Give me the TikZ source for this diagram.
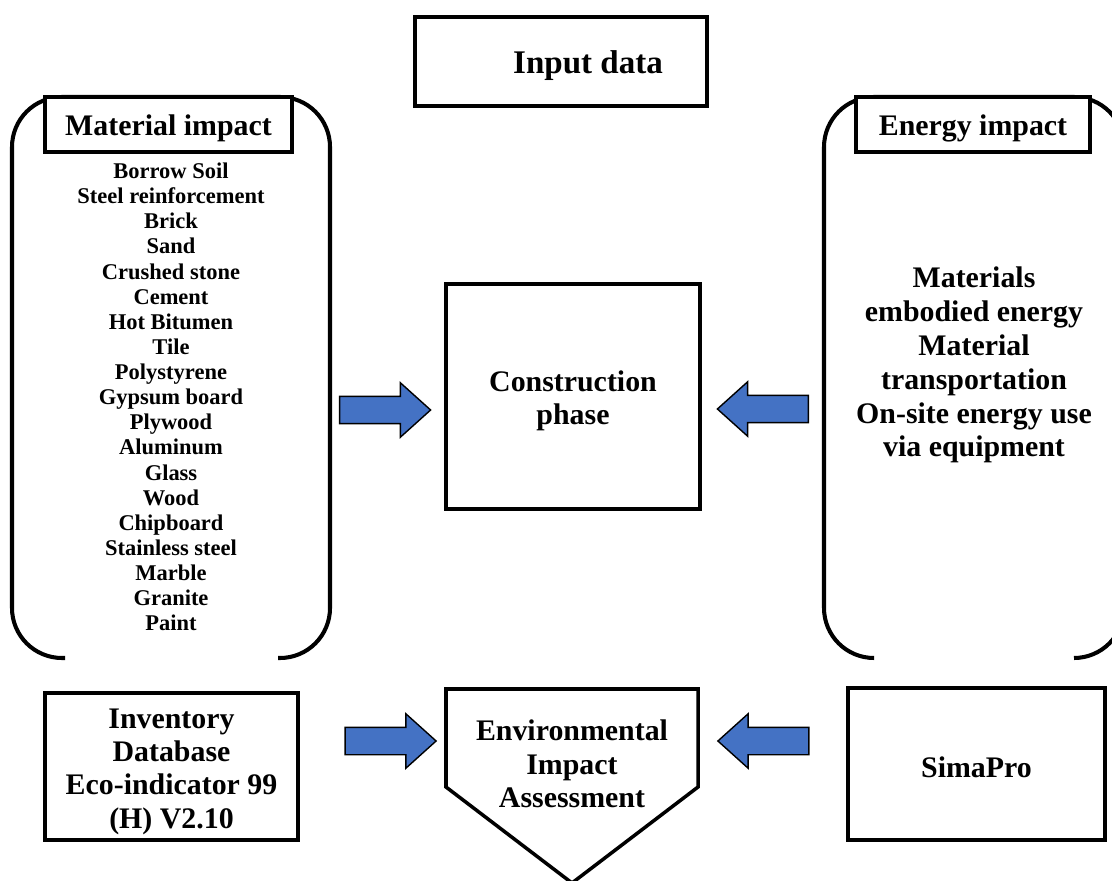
\documentclass[tikz,border=0pt]{standalone}
\usepackage{fontspec}
\setmainfont{Liberation Serif}
\usetikzlibrary{shapes.arrows}

\definecolor{arrowblue}{HTML}{4472C4}

\tikzset{
	box/.style={draw, line width=2pt, fill=white, inner sep=0pt},
	boxtext/.style={align=center, inner sep=0pt, font=\bfseries\fontsize{17}{19.3}\selectfont},
	bracket/.style={line width=2.3pt, rounded corners=1cm},
	blockarrow/.style={single arrow, draw, line width=0.8pt, fill=arrowblue,
		inner xsep=0pt, inner ysep=0.26cm, single arrow head extend=0.27cm,
		single arrow tip angle=84, minimum height=1.82cm},
}

\begin{document}
\begin{tikzpicture}[x=0.02cm,y=-0.02cm]

	%Canvas, one unit is one pixel of the reference
	\useasboundingbox (0,0) rectangle (1112,881);
	\clip (0,0) rectangle (1112,881);

	%Left and right brackets (top edges are hidden under the title boxes)
	\draw[bracket] (65,658) -- (12,658) -- (12,97) -- (330,97) -- (330,658) -- (278,658);
	\draw[bracket] (874,658) -- (824,658) -- (824,97) -- (1124,97) -- (1124,658) -- (1074,658);

	%Title boxes
	\node[box, minimum width=5.84cm, minimum height=1.78cm] (input) at (561,61.5) {};
	\node[boxtext, font=\bfseries\fontsize{18.8}{22}\selectfont] (inputtext) at (588,65.5) {Input data};
	\node[box, minimum width=4.94cm, minimum height=1.1cm] (material) at (168.5,124.5) {};
	\node[boxtext] (materialtext) at (168.5,128.5) {Material impact};
	\node[box, minimum width=4.68cm, minimum height=1.1cm] (energy) at (973,124.5) {};
	\node[boxtext] (energytext) at (973,128.5) {Energy impact};

	%Material list
	\node[boxtext, font=\bfseries\fontsize{12.8}{14.3}\selectfont] (materials) at (171,397)
		{Borrow Soil\\Steel reinforcement\\Brick\\Sand\\Crushed stone\\Cement\\Hot Bitumen\\Tile\\
		 Polystyrene\\Gypsum board\\Plywood\\Aluminum\\Glass\\Wood\\Chipboard\\Stainless steel\\
		 Marble\\Granite\\Paint};

	%Energy list
	\node[boxtext] (energies) at (974,365)
		{Materials\\embodied energy\\Material\\transportation\\On-site energy use\\via equipment};

	%Construction phase
	\node[box, minimum width=5.08cm, minimum height=4.5cm] (construction) at (573,396.5) {};
	\node[boxtext, font=\bfseries\fontsize{17}{18.8}\selectfont] (constructiontext) at (573,400.5)
		{Construction\\phase};

	%Bottom row
	\node[box, minimum width=5.06cm, minimum height=2.94cm] (inventory) at (171.5,766.5) {};
	\node[boxtext, font=\bfseries\fontsize{17}{19}\selectfont] (inventorytext) at (171.5,771.5)
		{Inventory\\Database\\Eco-indicator 99\\(H) V2.10};
	\node[box, minimum width=5.14cm, minimum height=3.04cm] (simapro) at (976.5,764) {};
	\node[boxtext] (simaprotext) at (976.5,767) {SimaPro};

	%Environmental impact assessment (pentagon)
	\draw[line width=2pt] (446,689) -- (698,689) -- (698,787) -- (572,883) -- (446,787) -- cycle;
	\node[boxtext, font=\bfseries\fontsize{17}{19}\selectfont] (eia) at (572,764)
		{Environmental\\Impact\\Assessment};

	%Block arrows
	\node[blockarrow] (arrowmat) at (377.5,410) {};
	\node[blockarrow, shape border rotate=180] (arrowene) at (770.5,409) {};
	\node[blockarrow] (arrowinv) at (383,741) {};
	\node[blockarrow, shape border rotate=180] (arrowsim) at (771,741) {};

\end{tikzpicture}
\end{document}
